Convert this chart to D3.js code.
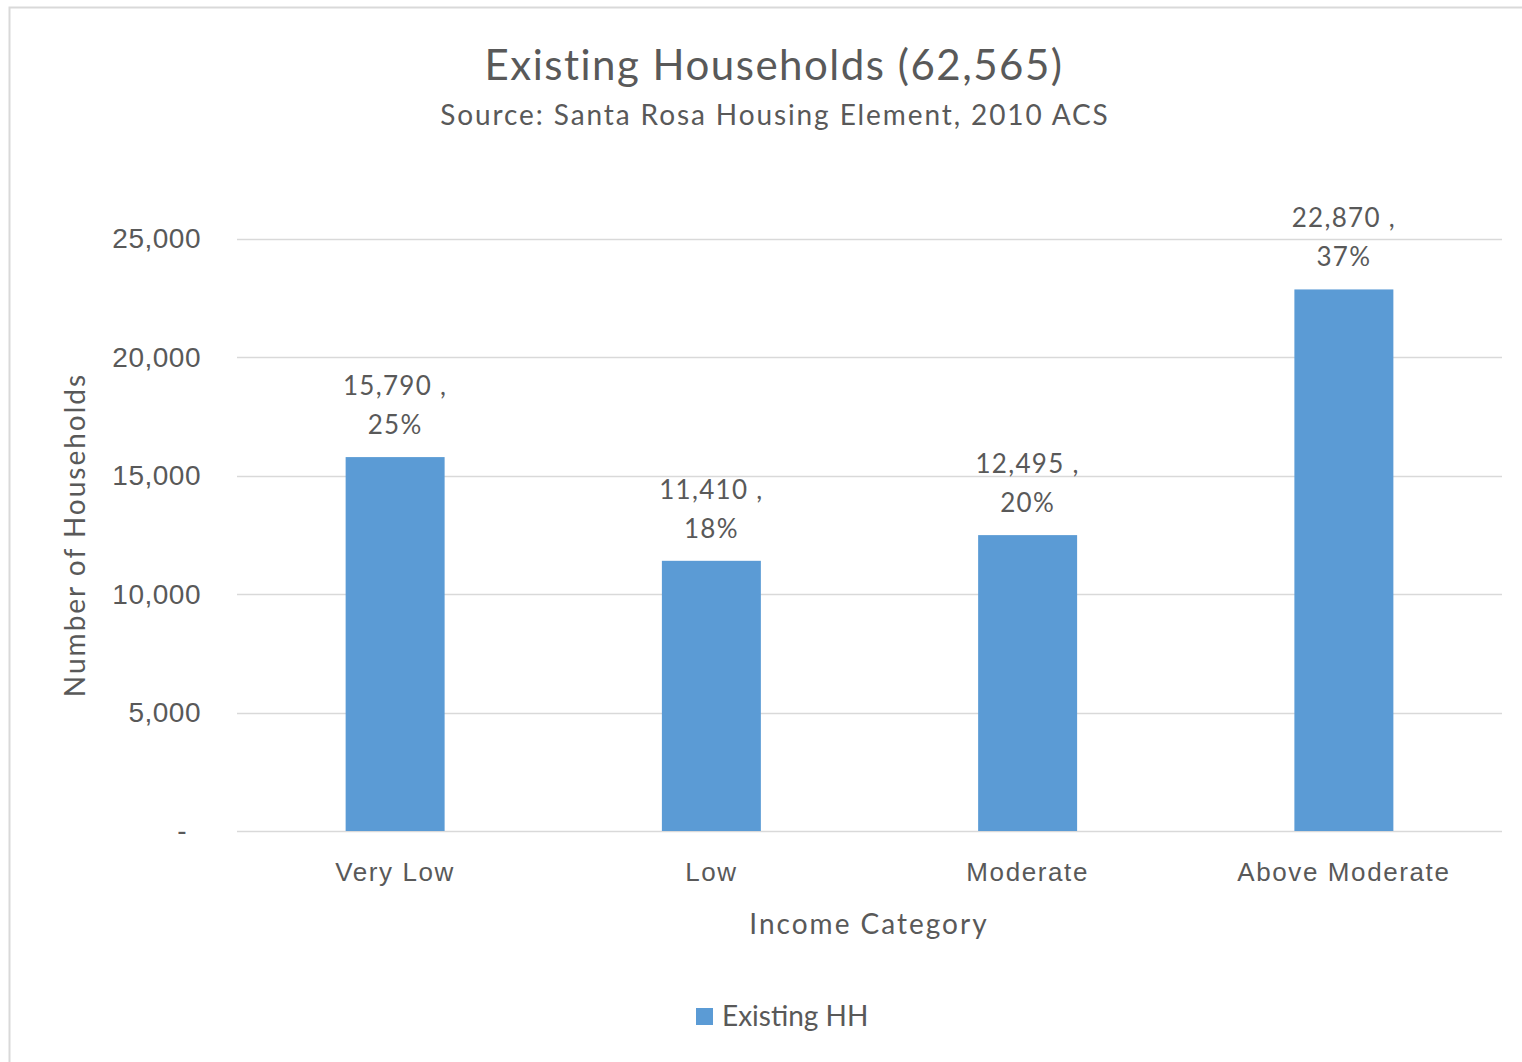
<!DOCTYPE html>
<html>
<head>
<meta charset="utf-8">
<script src="https://cdn.jsdelivr.net/npm/d3@7"></script>
<style>
  body { margin: 0; background: #fff; }
  svg { display: block; font-family: Lato, "Open Sans", sans-serif; }
  .grid line { stroke: #d9d9d9; stroke-width: 1.5; }
  .txt { fill: #595959; }
</style>
</head>
<body>
<script>
// data
var categories = ["Very Low", "Low", "Moderate", "Above Moderate"];
var households = [15790, 11410, 12495, 22870];
var shares = ["25%", "18%", "20%", "37%"];
var yTicks = [0, 5000, 10000, 15000, 20000, 25000];
var seriesName = "Existing HH";

var width = 1522, height = 1062;
var margin = {top: 239, right: 20, bottom: 231, left: 237};
var plotW = width - margin.left - margin.right;
var plotH = height - margin.top - margin.bottom;

var svg = d3.select("body").append("svg")
  .attr("width", width)
  .attr("height", height);

// chart border
svg.append("rect")
  .attr("x", 9.5).attr("y", 7.5)
  .attr("width", width).attr("height", height)
  .attr("fill", "none")
  .attr("stroke", "#d9d9d9")
  .attr("stroke-width", 2);

var x = d3.scaleBand()
  .domain(categories)
  .range([0, plotW])
  .paddingInner(0.687)
  .paddingOuter(0.3435);

var y = d3.scaleLinear()
  .domain([0, 25000])
  .range([plotH, 0]);

var g = svg.append("g")
  .attr("transform", "translate(" + margin.left + "," + margin.top + ")");

// gridlines
g.append("g").attr("class", "grid")
  .selectAll("line")
  .data(yTicks)
  .enter().append("line")
  .attr("x1", 0).attr("x2", plotW)
  .attr("y1", function (d) { return Math.round(y(d)) + 0.5; })
  .attr("y2", function (d) { return Math.round(y(d)) + 0.5; });

// y axis labels
var yAxis = d3.axisLeft(y)
  .tickValues(yTicks)
  .tickSize(0)
  .tickPadding(36)
  .tickFormat(function (d) { return d === 0 ? "-" : d3.format(",")(d); });
var ya = g.append("g").call(yAxis);
ya.select(".domain").remove();
ya.selectAll("text")
  .attr("class", "txt")
  .attr("font-family", null)
  .style("font-size", "28px")
  .style("letter-spacing", "0.5px")
  .attr("dx", function (d) { return d === 0 ? "-14" : null; });

// x axis labels
var xAxis = d3.axisBottom(x).tickSize(0).tickPadding(32);
var xa = g.append("g").attr("transform", "translate(0," + plotH + ")").call(xAxis);
xa.select(".domain").remove();
xa.selectAll("text")
  .attr("class", "txt")
  .attr("font-family", null)
  .style("font-size", "26px")
  .style("letter-spacing", "1.6px");

// bars
g.selectAll(".bar")
  .data(households)
  .enter().append("rect")
  .attr("class", "bar")
  .attr("x", function (d, i) { return x(categories[i]); })
  .attr("width", x.bandwidth())
  .attr("y", function (d) { return y(d); })
  .attr("height", function (d) { return plotH - y(d); })
  .attr("fill", "#5b9bd5");

// data labels
var lbl = g.selectAll(".lbl")
  .data(households)
  .enter().append("text")
  .attr("class", "txt")
  .attr("text-anchor", "middle")
  .style("font-size", "26px")
  .style("letter-spacing", "1.3px")
  .attr("x", function (d, i) { return x(categories[i]) + x.bandwidth() / 2; })
  .attr("y", function (d) { return y(d); });
lbl.append("tspan")
  .attr("x", function (d, i) { return x(categories[i]) + x.bandwidth() / 2; })
  .attr("dy", -62)
  .text(function (d) { return d3.format(",")(d) + " ,"; });
lbl.append("tspan")
  .attr("x", function (d, i) { return x(categories[i]) + x.bandwidth() / 2; })
  .attr("dy", 39)
  .text(function (d, i) { return shares[i]; });

// titles
svg.append("text").attr("class", "txt")
  .attr("x", 774).attr("y", 80)
  .attr("text-anchor", "middle")
  .style("font-size", "42px")
  .style("letter-spacing", "1.5px")
  .text("Existing Households (62,565)");
svg.append("text").attr("class", "txt")
  .attr("x", 775).attr("y", 125)
  .attr("text-anchor", "middle")
  .style("font-size", "28px")
  .style("letter-spacing", "1.9px")
  .text("Source: Santa Rosa Housing Element, 2010 ACS");

// axis titles
svg.append("text").attr("class", "txt")
  .attr("transform", "translate(85,535) rotate(-90)")
  .attr("text-anchor", "middle")
  .style("font-size", "28px")
  .style("letter-spacing", "2px")
  .text("Number of Households");
svg.append("text").attr("class", "txt")
  .attr("x", 869).attr("y", 934)
  .attr("text-anchor", "middle")
  .style("font-size", "28px")
  .style("letter-spacing", "2px")
  .text("Income Category");

// legend
var leg = svg.append("g").attr("transform", "translate(696,1008)");
leg.append("rect").attr("width", 17).attr("height", 17).attr("fill", "#5b9bd5");
leg.append("text").attr("class", "txt")
  .attr("x", 26).attr("y", 18)
  .style("font-size", "28px")
  .text(seriesName);
</script>
</body>
</html>
